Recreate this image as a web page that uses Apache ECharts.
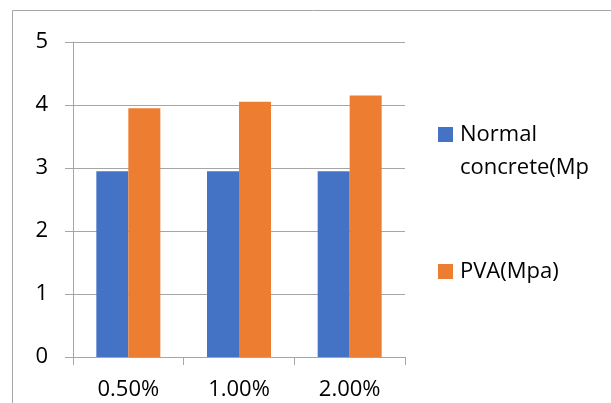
<!DOCTYPE html>
<html>
<head>
<meta charset="utf-8">
<script src="https://cdn.jsdelivr.net/npm/echarts@6/dist/echarts.min.js"></script>
<style>
  html, body { margin: 0; padding: 0; background: #fff; }
  #chart { width: 611px; height: 403px; }
</style>
</head>
<body>
<div id="chart"></div>
<script>
// Fibre dosage groups and strengths (MPa)
const categories = ['0.50%', '1.00%', '2.00%'];
const normalConcrete = [2.95, 2.95, 2.95];
const pvaConcrete = [3.95, 4.05, 4.15];
const yTicks = { min: 0, max: 5, interval: 1 };

const FONT = '"Open Sans", "Noto Sans", sans-serif';
const GRID_COLOR = '#a6a6a6';
const TEXT_SIZE = 22;

const chart = echarts.init(document.getElementById('chart'), null, { renderer: 'canvas' });

chart.setOption({
  animation: false,
  backgroundColor: '#ffffff',
  grid: { left: 73, right: 206, top: 42, bottom: 46, containLabel: false },
  graphic: [{
    type: 'rect',
    shape: { x: 12.5, y: 10.5, width: 640, height: 420 },
    style: { fill: 'none', stroke: '#a6a6a6', lineWidth: 1 },
    silent: true,
    z: -1
  }],
  legend: [
    {
      data: ['Normal concrete(Mpa)'],
      left: 433, top: 80,
      orient: 'vertical',
      itemWidth: 15, itemHeight: 15,
      icon: 'rect',
      // long name wraps onto two lines and is cut at the chart's right edge;
      // a blank leading line keeps the swatch level with the first word
      formatter: function (name) {
        return ' \n' + name.replace(' ', '\n');
      },
      textStyle: {
        fontFamily: FONT, fontSize: TEXT_SIZE, color: '#000',
        lineHeight: 33, width: 140, overflow: 'truncate', ellipsis: '',
        padding: [0, 0, 0, 2]
      }
    },
    {
      data: ['PVA(Mpa)'],
      left: 433, top: 250,
      orient: 'vertical',
      itemWidth: 15, itemHeight: 15,
      icon: 'rect',
      textStyle: { fontFamily: FONT, fontSize: TEXT_SIZE, color: '#000', lineHeight: 33, padding: [0, 0, 0, 2] }
    }
  ],
  xAxis: {
    type: 'category',
    data: categories,
    boundaryGap: true,
    axisLine: { show: true, lineStyle: { color: GRID_COLOR, width: 1 } },
    axisTick: { show: true, length: 8, lineStyle: { color: GRID_COLOR } },
    axisLabel: { fontFamily: FONT, fontSize: TEXT_SIZE, color: '#000', margin: 22 },
    splitLine: { show: false }
  },
  yAxis: {
    type: 'value',
    min: yTicks.min, max: yTicks.max, interval: yTicks.interval,
    axisLine: { show: true, lineStyle: { color: GRID_COLOR, width: 1 } },
    axisTick: { show: true, length: 8, lineStyle: { color: GRID_COLOR } },
    axisLabel: { fontFamily: FONT, fontSize: TEXT_SIZE, color: '#000', margin: 25 },
    splitLine: { show: true, lineStyle: { color: GRID_COLOR, width: 1 } }
  },
  series: [
    {
      name: 'Normal concrete(Mpa)',
      type: 'bar',
      data: normalConcrete,
      barWidth: 32,
      barGap: '0%',
      itemStyle: { color: '#4472C4' }
    },
    {
      name: 'PVA(Mpa)',
      type: 'bar',
      data: pvaConcrete,
      barWidth: 32,
      barGap: '0%',
      itemStyle: { color: '#ED7D31' }
    }
  ]
});
</script>
</body>
</html>
